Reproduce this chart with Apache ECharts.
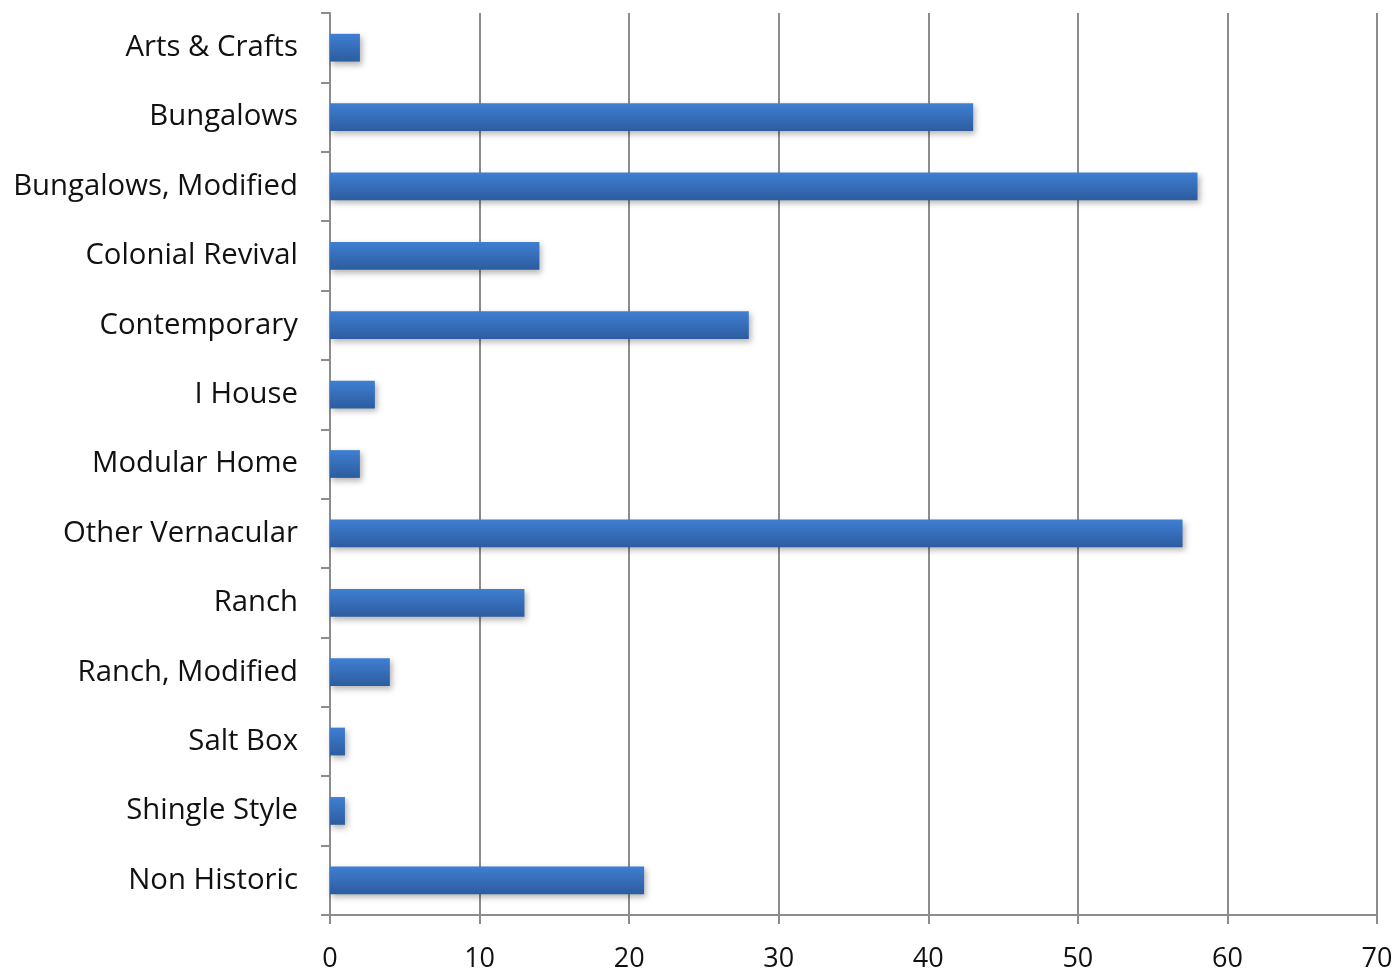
<!DOCTYPE html>
<html>
<head>
<meta charset="utf-8">
<script src="https://cdn.jsdelivr.net/npm/echarts@6/dist/echarts.min.js"></script>
<style>
  html, body { margin: 0; padding: 0; background: #fff; }
  #chart { width: 1399px; height: 974px; }
</style>
</head>
<body>
<div id="chart"></div>
<script>
// house styles, top to bottom as shown
var styles = ["Arts & Crafts", "Bungalows", "Bungalows, Modified", "Colonial Revival",
    "Contemporary", "I House", "Modular Home", "Other Vernacular", "Ranch",
    "Ranch, Modified", "Salt Box", "Shingle Style", "Non Historic"];
var counts = [2, 43, 58, 14, 28, 3, 2, 57, 13, 4, 1, 1, 21];
var xTicks = [0, 10, 20, 30, 40, 50, 60, 70];

var chart = echarts.init(document.getElementById("chart"));
var gray = "#8c8c8c";
var option = {
    backgroundColor: "#ffffff",
    animation: false,
    grid: { left: 330, right: 22, top: 13, bottom: 59 },
    xAxis: {
        type: "value",
        min: xTicks[0],
        max: xTicks[xTicks.length - 1],
        interval: 10,
        axisLine: { show: true, lineStyle: { color: gray, width: 2 } },
        axisTick: { show: true, length: 9, lineStyle: { color: gray, width: 2 } },
        splitLine: { show: true, lineStyle: { color: gray, width: 2 } },
        axisLabel: { margin: 31, color: "#111", fontSize: 27, fontFamily: "Open Sans" }
    },
    yAxis: {
        type: "category",
        inverse: true,
        data: styles,
        axisLine: { show: true, lineStyle: { color: gray, width: 2 } },
        axisTick: { show: true, length: 9, lineStyle: { color: gray, width: 2 } },
        axisLabel: { margin: 32, color: "#111", fontSize: 29.3, fontFamily: "Open Sans", padding: [4, 0, 0, 0] }
    },
    series: [
        {
            type: "bar",
            data: counts,
            barWidth: "40%",
            itemStyle: {
                color: new echarts.graphic.LinearGradient(0, 0, 0, 1, [
                    { offset: 0, color: "#3f7fd2" },
                    { offset: 1, color: "#2d5c9f" }
                ]),
                shadowColor: "rgba(0,0,0,0.3)",
                shadowBlur: 6,
                shadowOffsetX: 2,
                shadowOffsetY: 3
            }
        }
    ]
};
chart.setOption(option);
</script>
</body>
</html>
